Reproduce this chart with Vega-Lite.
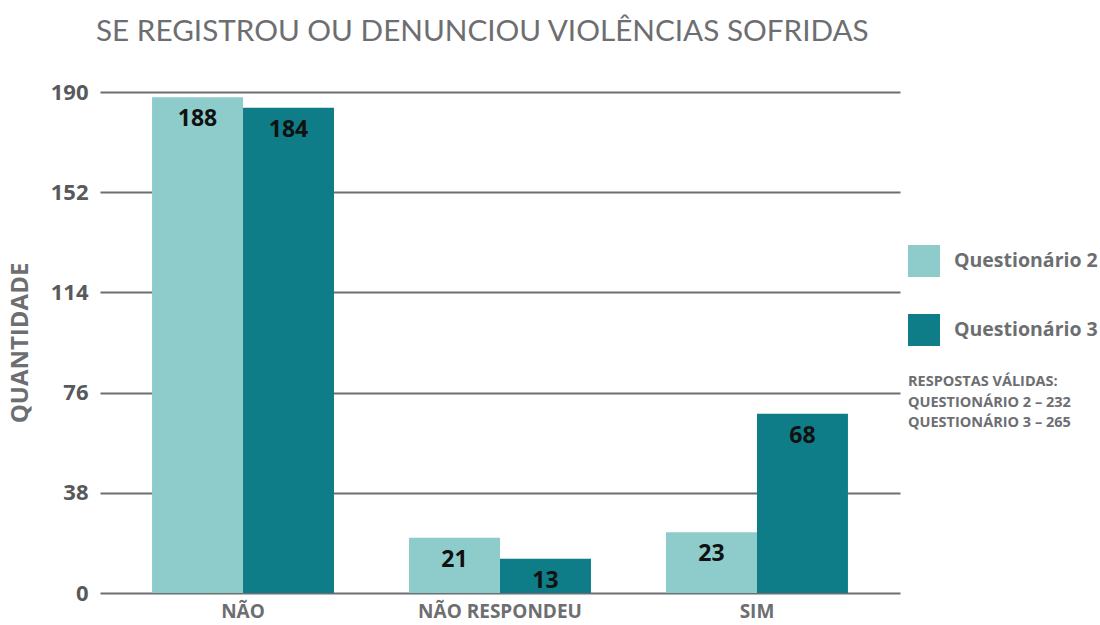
{
  "$schema": "https://vega.github.io/schema/vega-lite/v6.json",
  "autosize": "none",
  "width": 800,
  "height": 501,
  "padding": {"left": 100, "top": 92, "right": 200, "bottom": 32},
  "background": "white",
  "title": {
    "text": "SE REGISTROU OU DENUNCIOU VIOLÊNCIAS SOFRIDAS",
    "anchor": "start",
    "frame": "group",
    "dx": -4,
    "offset": 33,
    "font": "Lato",
    "fontWeight": 400,
    "fontSize": 29.7,
    "color": "#6d6e71"
  },
  "config": {
    "view": {"stroke": null},
    "font": "Open Sans"
  },
  "data": {
    "values": [
      {"categoria": "NÃO", "serie": "Questionário 2", "valor": 188},
      {"categoria": "NÃO", "serie": "Questionário 3", "valor": 184},
      {"categoria": "NÃO RESPONDEU", "serie": "Questionário 2", "valor": 21},
      {"categoria": "NÃO RESPONDEU", "serie": "Questionário 3", "valor": 13},
      {"categoria": "SIM", "serie": "Questionário 2", "valor": 23},
      {"categoria": "SIM", "serie": "Questionário 3", "valor": 68}
    ]
  },
  "encoding": {
    "x": {
      "field": "categoria",
      "type": "nominal",
      "sort": ["NÃO", "NÃO RESPONDEU", "SIM"],
      "scale": {"paddingInner": 0.292, "paddingOuter": 0.2025},
      "axis": {
        "title": null,
        "labelAngle": 0,
        "domain": false,
        "ticks": false,
        "labelPadding": 9,
        "labelFont": "Open Sans",
        "labelFontWeight": "bold",
        "labelFontSize": 19,
        "labelColor": "#6d6e71"
      }
    },
    "xOffset": {
      "field": "serie",
      "type": "nominal",
      "scale": {"paddingInner": 0, "paddingOuter": 0}
    },
    "y": {
      "field": "valor",
      "type": "quantitative",
      "scale": {"domain": [0, 190], "nice": false},
      "axis": {
        "title": "QUANTIDADE",
        "titleFont": "Open Sans",
        "titleFontWeight": "bold",
        "titleFontSize": 24,
        "titleColor": "#6d6e71",
        "titlePadding": 18,
        "values": [0, 38, 76, 114, 152, 190],
        "domain": false,
        "ticks": false,
        "grid": true,
        "gridColor": "#6d6e71",
        "gridWidth": 2,
        "labelPadding": 12,
        "labelFont": "Open Sans",
        "labelFontWeight": "bold",
        "labelFontSize": 22,
        "labelColor": "#58595b"
      }
    }
  },
  "layer": [
    {
      "mark": {"type": "bar"},
      "encoding": {
        "color": {
          "field": "serie",
          "type": "nominal",
          "scale": {"domain": ["Questionário 2", "Questionário 3"], "range": ["#8dcccb", "#0f7d87"]},
          "legend": {
            "title": ["RESPOSTAS VÁLIDAS:", "QUESTIONÁRIO 2 – 232", "QUESTIONÁRIO 3 – 265"],
            "titleOrient": "bottom",
            "titleFont": "Open Sans",
            "titleFontWeight": "bold",
            "titleFontSize": 14.5,
            "titleLineHeight": 20.5,
            "titleColor": "#6d6e71",
            "titlePadding": 29,
            "orient": "none",
            "legendX": 808,
            "legendY": 153,
            "symbolType": "square",
            "symbolSize": 1024,
            "symbolStrokeWidth": 0,
            "symbolOpacity": 1,
            "rowPadding": 37,
            "labelOffset": 14,
            "labelFont": "Open Sans",
            "labelFontWeight": "bold",
            "labelFontSize": 19.5,
            "labelColor": "#6d6e71",
            "labelLimit": 300
          }
        }
      }
    },
    {
      "mark": {
        "type": "text",
        "baseline": "middle",
        "dy": 22,
        "font": "Open Sans",
        "fontWeight": "bold",
        "fontSize": 23,
        "color": "#111111"
      },
      "encoding": {
        "text": {"field": "valor", "type": "quantitative"}
      }
    }
  ]
}
